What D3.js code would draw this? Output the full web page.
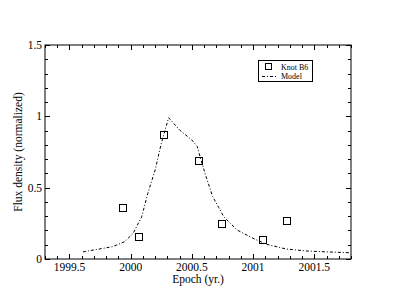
<!DOCTYPE html>
<html><head><meta charset="utf-8">
<script src="https://cdn.jsdelivr.net/npm/d3@7"></script>
<style>body{margin:0;background:#fff}svg{display:block}text{font-family:"Liberation Serif","Times New Roman",serif;fill:#000}</style>
</head><body><svg id="c" width="395" height="305"></svg>
<script>
const knotEpoch = [1999.94, 2000.07, 2000.27, 2000.56, 2000.75, 2001.08, 2001.28];
const knotFlux  = [0.355, 0.152, 0.871, 0.687, 0.247, 0.131, 0.268];
const modelEpoch = [1999.61, 1999.85, 1999.95, 2000.02, 2000.09, 2000.14, 2000.20, 2000.25, 2000.31, 2000.40, 2000.50, 2000.545, 2000.57, 2000.62, 2000.67, 2000.72, 2000.76, 2000.87, 2001.00, 2001.11, 2001.27, 2001.44, 2001.60, 2001.79];
const modelFlux  = [0.050, 0.086, 0.121, 0.180, 0.296, 0.460, 0.624, 0.810, 0.990, 0.904, 0.834, 0.787, 0.706, 0.566, 0.437, 0.360, 0.297, 0.203, 0.145, 0.103, 0.070, 0.056, 0.050, 0.044];
const xTicks = [1999.5, 2000, 2000.5, 2001, 2001.5];
const yTicks = [0, 0.5, 1, 1.5];
const xLabel = "Epoch (yr.)", yLabel = "Flux density (normalized)";
const legendLabels = ["Knot B6", "Model"];

const L=45, R=351, T=45, B=259;
const x = d3.scaleLinear().domain([1999.3, 2001.8]).range([L, R]);
const y = d3.scaleLinear().domain([0, 1.5]).range([B, T]);
const svg = d3.select("#c");

const xMinor = d3.range(1999.3, 2001.81, 0.1).map(v=>+v.toFixed(2));
const yMinor = d3.range(0, 1.51, 0.1).map(v=>+v.toFixed(2));
const isMajorX = v => xTicks.some(t=>Math.abs(t-v)<1e-6);
const isMajorY = v => yTicks.some(t=>Math.abs(t-v)<1e-6);

svg.append("rect").attr("x",L).attr("y",T).attr("width",R-L).attr("height",B-T)
  .attr("fill","none").attr("stroke","#000").attr("stroke-width",1);

const g = svg.append("g").attr("stroke","#000").attr("stroke-width",1);
xMinor.forEach(v=>{
  const len = isMajorX(v)?5:3, px = Math.round(x(v))+0.5;
  g.append("line").attr("x1",px).attr("x2",px).attr("y1",B).attr("y2",B-len);
  g.append("line").attr("x1",px).attr("x2",px).attr("y1",T).attr("y2",T+len);
});
yMinor.forEach(v=>{
  const len = isMajorY(v)?5:3, py = Math.round(y(v))+0.5;
  g.append("line").attr("y1",py).attr("y2",py).attr("x1",L).attr("x2",L+len);
  g.append("line").attr("y1",py).attr("y2",py).attr("x1",R).attr("x2",R-len);
});

svg.selectAll(".xt").data(xTicks).enter().append("text")
  .attr("x",d=>x(d)).attr("y",B+12).attr("text-anchor","middle").attr("font-size",11.5)
  .text(d=>d3.format("")(d));
svg.selectAll(".yt").data(yTicks).enter().append("text")
  .attr("x",L-3).attr("y",d=>y(d)+4).attr("text-anchor","end").attr("font-size",11.5)
  .text(d=>d3.format("")(d));

svg.append("text").attr("x",(L+R)/2).attr("y",B+24).attr("text-anchor","middle")
  .attr("font-size",11.5).text(xLabel);
svg.append("text").attr("transform",`translate(22,${(T+B)/2}) rotate(-90)`)
  .attr("text-anchor","middle").attr("font-size",11.5).text(yLabel);

const line = d3.line().x(d=>x(d[0])).y(d=>y(d[1]));
svg.append("path").datum(modelEpoch.map((e,i)=>[e,modelFlux[i]]))
  .attr("d",line).attr("fill","none").attr("stroke","#000").attr("stroke-width",1)
  .attr("stroke-dasharray","3,2,1,2");

svg.selectAll(".pt").data(knotEpoch.map((e,i)=>[e,knotFlux[i]])).enter().append("rect")
  .attr("x",d=>Math.round(x(d[0]))-3.5).attr("y",d=>Math.round(y(d[1]))-3.5)
  .attr("width",7).attr("height",7).attr("fill","none").attr("stroke","#000").attr("stroke-width",1);

const lg = svg.append("g");
lg.append("rect").attr("x",258.5).attr("y",60.5).attr("width",54).attr("height",21)
  .attr("fill","#fff").attr("stroke","#000").attr("stroke-width",1);
lg.append("rect").attr("x",265.5).attr("y",63.5).attr("width",6).attr("height",6)
  .attr("fill","none").attr("stroke","#000");
lg.append("line").attr("x1",262).attr("x2",277).attr("y1",76.5).attr("y2",76.5)
  .attr("stroke","#000").attr("stroke-dasharray","3,2,1,2");
lg.append("text").attr("x",281).attr("y",70).attr("font-size",8).text(legendLabels[0]);
lg.append("text").attr("x",281).attr("y",79).attr("font-size",8).text(legendLabels[1]);
</script></body></html>
